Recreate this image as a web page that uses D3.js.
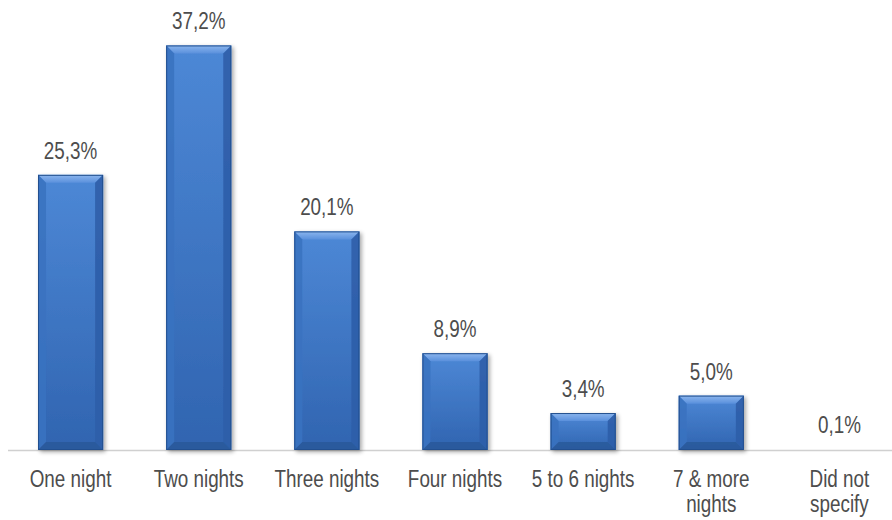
<!DOCTYPE html>
<html><head><meta charset="utf-8">
<script src="https://cdn.jsdelivr.net/npm/d3@7/dist/d3.min.js"></script>
<style>body{margin:0;background:#fff}svg{display:block}</style>
</head><body>
<svg id="c" width="892" height="520"></svg>
<script>
const categories = [["One night"],["Two nights"],["Three nights"],["Four nights"],["5 to 6 nights"],["7 & more","nights"],["Did not","specify"]];
const values = [25.3, 37.2, 20.1, 8.9, 3.4, 5.0, 0.1];
const valueLabels = ["25,3%","37,2%","20,1%","8,9%","3,4%","5,0%","0,1%"];

const svg = d3.select("#c");
const keys = categories.map(c => c.join(" "));
const x = d3.scaleBand().domain(keys).range([6.5, 903.5]).paddingInner(0.492).paddingOuter(0.246);
const y = d3.scaleLinear().domain([0, 40]).range([450, 15]);

const defs = svg.append("defs");
const g1 = defs.append("linearGradient").attr("id","body").attr("x1",0).attr("y1",0).attr("x2",0).attr("y2",1);
g1.append("stop").attr("offset",0).attr("stop-color","#4d88d6");
g1.append("stop").attr("offset",1).attr("stop-color","#3064b0");
const g2 = defs.append("linearGradient").attr("id","topb").attr("x1",0).attr("y1",0).attr("x2",0).attr("y2",1);
g2.append("stop").attr("offset",0).attr("stop-color","#8cb6ee");
g2.append("stop").attr("offset",1).attr("stop-color","#5a90dc");
const f = defs.append("filter").attr("id","sh").attr("x","-20%").attr("y","-20%").attr("width","140%").attr("height","140%");
f.append("feGaussianBlur").attr("in","SourceAlpha").attr("stdDeviation",2.2);
f.append("feOffset").attr("dx",2).attr("dy",2).attr("result","b");
f.append("feComponentTransfer").append("feFuncA").attr("type","linear").attr("slope",0.35);
const m = f.append("feMerge"); m.append("feMergeNode"); m.append("feMergeNode").attr("in","SourceGraphic");

svg.append("line").attr("x1",8).attr("x2",892).attr("y1",450.5).attr("y2",450.5)
  .attr("stroke","#d0d0d0").attr("stroke-width",1.5);

const bars = svg.append("g").selectAll("g").data(values).join("g").attr("filter","url(#sh)");
bars.each(function(v,i){
  const g = d3.select(this);
  const x0 = x(keys[i]), w = x.bandwidth(), y0 = y(v), h = y(0) - y(v);
  if (h < 2) return;
  const b = Math.min(8, h/2, w/2);
  g.append("rect").attr("x",x0).attr("y",y0).attr("width",w).attr("height",h).attr("fill","url(#body)");
  g.append("path").attr("d",`M${x0},${y0}L${x0+w},${y0}L${x0+w-b},${y0+b}L${x0+b},${y0+b}Z`).attr("fill","url(#topb)");
  g.append("path").attr("d",`M${x0},${y0}L${x0+b},${y0+b}L${x0+b},${y0+h-b}L${x0},${y0+h}Z`).attr("fill","#3a72c0").attr("opacity",0.9);
  g.append("path").attr("d",`M${x0+w},${y0}L${x0+w-b},${y0+b}L${x0+w-b},${y0+h-b}L${x0+w},${y0+h}Z`).attr("fill","#2d5ea8").attr("opacity",0.9);
  g.append("path").attr("d",`M${x0},${y0+h}L${x0+b},${y0+h-b}L${x0+w-b},${y0+h-b}L${x0+w},${y0+h}Z`).attr("fill","#2a5799").attr("opacity",0.8);
  g.append("rect").attr("x",x0+0.5).attr("y",y0+0.5).attr("width",w-1).attr("height",h-1)
    .attr("fill","none").attr("stroke","#24508f").attr("stroke-width",1);
});

const font = "'Liberation Sans', Arial, sans-serif";
const fs = 23, sx = 0.82;
svg.append("g").selectAll("text").data(values).join("text")
  .attr("transform",(d,i)=>`translate(${x(keys[i])+x.bandwidth()/2},${y(d)-16}) scale(${sx},1)`)
  .attr("text-anchor","middle").attr("font-family",font).attr("font-size",fs)
  .attr("fill","#4d4d4d").text((d,i)=>valueLabels[i]);

const lab = svg.append("g").selectAll("text").data(categories).join("text")
  .attr("transform",(d,i)=>`translate(${x(keys[i])+x.bandwidth()/2},487) scale(${sx},1)`)
  .attr("text-anchor","middle").attr("font-family",font).attr("font-size",fs)
  .attr("fill","#4d4d4d");
lab.each(function(lines){
  const t = d3.select(this);
  lines.forEach((l,j)=>t.append("tspan").attr("x",0).attr("dy",j?25:0).text(l));
});
</script>
</body></html>
